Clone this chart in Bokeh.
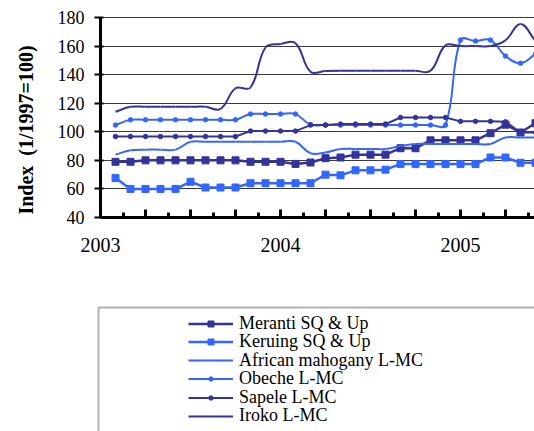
import math
from bokeh.plotting import figure
from bokeh.models import (FixedTicker, Legend, LegendItem, BoxAnnotation, Range1d,
                          Label)
from bokeh.embed import file_html
from bokeh.resources import INLINE

# ---------------- data (monthly index, month 0 = Jan 2003) ----------------
months = list(range(1, 30))

meranti = [79, 79, 80, 80, 80, 80, 80, 80, 80, 79, 79, 79, 77.5, 78.5, 81.5,
           82, 84, 84, 84, 88.5, 88.5, 94, 94, 94, 94, 99, 105, 99.5, 106]
keruing = [67.6, 60, 60, 60, 60, 65, 61, 61, 61, 64, 64, 64, 64, 64, 70,
           69.5, 73, 73, 73.5, 77.4, 77.4, 77.4, 77.4, 77.4, 77.4, 82, 82, 78.3, 78.3]
african = [84, 87, 87.5, 87.5, 87.5, 93, 93, 93, 93, 93, 93, 93, 93, 85, 85.5,
           88, 88, 88, 88, 90, 91.5, 91.5, 91.5, 91.5, 91.5, 91.5, 96, 96, 96]
obeche = [104.7, 108.4, 108.4, 108.4, 108.4, 108.4, 108.4, 108.4, 108.4, 112.4,
          112.4, 112.4, 112.4, 105, 104.7, 104.7, 104.7, 104.7, 104.7, 104.7,
          104.7, 104.7, 104.7, 164.2, 163.5, 164.2, 153, 148, 154.4]
sapele = [96.7, 96.7, 96.7, 96.7, 96.7, 96.7, 96.7, 96.7, 96.7, 100.5, 100.5,
          100.5, 100.5, 104.7, 104.7, 105.4, 105.4, 105.4, 105.4, 110, 110, 110,
          110, 107.3, 107.3, 107.3, 107, 99.5, 99.5]
iroko = [114, 117.5, 117.5, 117.5, 117.5, 117.5, 117.5, 116, 130.5, 131, 159,
         161.5, 162, 142, 142.5, 142.7, 142.7, 142.7, 142.7, 142.7, 142.7, 142.7,
         160.5, 160, 160, 160, 164, 175.5, 163.5]

series_names = ["Meranti SQ & Up", "Keruing SQ & Up", "African mahogany L-MC",
                "Obeche L-MC", "Sapele L-MC", "Iroko L-MC"]
y_title = "Index\u00a0 (1/1997=100)"

year_labels = ["2003", "2004", "2005"]
year_months = [0, 12, 24]
y_ticks = [40, 60, 80, 100, 120, 140, 160, 180]
x_major = [0, 3, 6, 9, 12, 15, 18, 21, 24, 27]
x_minor = [1.5, 4.5, 7.5, 10.5, 13.5, 16.5, 19.5, 22.5, 25.5, 28.5]

NAVY = "#333399"
BLUE = "#3366FF"
SERIF = "Liberation Serif"

# ---------------- layout ----------------
W, H = 534, 431
LEFT, TOP = 100, 17            # canvas position of (month 0, index 180)
PX_PER_MONTH = 15.0
PX_PER_UNIT = 200.0 / 140.0
X_START = -LEFT / PX_PER_MONTH
X_END = (W - LEFT) / PX_PER_MONTH
Y_END = 180 + TOP / PX_PER_UNIT
Y_START = 180 - (H - TOP) / PX_PER_UNIT

p = figure(width=W, height=H, output_backend="svg", toolbar_location=None,
           x_range=Range1d(X_START, X_END), y_range=Range1d(Y_START, Y_END),
           min_border_left=0, min_border_right=0, min_border_top=0,
           min_border_bottom=0)
p.outline_line_color = None
p.background_fill_color = "white"
p.border_fill_color = "white"

SX = PX_PER_MONTH
SY = PX_PER_UNIT


def smooth_segments(xs, ys, f=0.4):
    """Bezier control points (Excel-like smoothing, weighted in screen space)."""
    n = len(xs)
    P = [(x * SX, y * SY) for x, y in zip(xs, ys)]

    def d(a, b):
        return math.hypot(P[a][0] - P[b][0], P[a][1] - P[b][1])

    out = dict(x0=[], y0=[], x1=[], y1=[], cx0=[], cy0=[], cx1=[], cy1=[])
    for i in range(n - 1):
        i0 = max(i - 1, 0)
        i3 = min(i + 2, n - 1)
        d01, d12, d23 = d(i0, i), d(i, i + 1), d(i + 1, i3)
        a = f * d12 / (d01 + d12) if (d01 + d12) > 0 else 0
        b = f * d12 / (d12 + d23) if (d12 + d23) > 0 else 0
        c0x = P[i][0] + (P[i + 1][0] - P[i0][0]) * a
        c0y = P[i][1] + (P[i + 1][1] - P[i0][1]) * a
        c1x = P[i + 1][0] - (P[i3][0] - P[i][0]) * b
        c1y = P[i + 1][1] - (P[i3][1] - P[i][1]) * b
        out["x0"].append(xs[i]); out["y0"].append(ys[i])
        out["x1"].append(xs[i + 1]); out["y1"].append(ys[i + 1])
        out["cx0"].append(c0x / SX); out["cy0"].append(c0y / SY)
        out["cx1"].append(c1x / SX); out["cy1"].append(c1y / SY)
    return out


# ---------------- grid ----------------
yt = FixedTicker(ticks=y_ticks)
grid = p.ygrid[0]
grid.ticker = yt
grid.grid_line_color = "#3a3a3a"
grid.grid_line_width = 1
grid.bounds = (40, 180)
p.xgrid.visible = False
if "cross_bounds" in grid.properties():
    grid.cross_bounds = (0, X_END)
else:
    mask = BoxAnnotation(left=0, right=LEFT - 1, top=0, bottom=240,
                         left_units="canvas", right_units="canvas",
                         top_units="canvas", bottom_units="canvas",
                         fill_color="white", fill_alpha=1, line_alpha=0,
                         level="underlay")
    p.add_layout(mask)

# ---------------- axes ----------------
yax = p.yaxis[0]
yax.ticker = yt
yax.fixed_location = 0
yax.bounds = (40, 180)
yax.axis_line_width = 3
yax.axis_line_color = "black"
yax.major_tick_out = 6
yax.major_tick_in = 3
yax.major_tick_line_width = 2
yax.minor_tick_line_color = None
yax.major_label_standoff = 10
yax.major_label_text_font = SERIF
yax.major_label_text_font_size = "18px"
yax.major_label_text_color = "black"

xax = p.xaxis[0]
xax.ticker = FixedTicker(ticks=x_major, minor_ticks=x_minor)
xax.fixed_location = 40
xax.bounds = (0, X_END)
overrides = {t: "" for t in x_major}
for m, lab in zip(year_months, year_labels):
    overrides[m] = lab
xax.major_label_overrides = overrides
xax.axis_line_width = 3
xax.axis_line_color = "black"
xax.major_tick_in = 8
xax.major_tick_out = 0
xax.minor_tick_in = 5
xax.minor_tick_out = 0
xax.major_tick_line_width = 3
xax.minor_tick_line_width = 3
xax.major_tick_line_color = "black"
xax.minor_tick_line_color = "black"
xax.major_label_standoff = 20
xax.major_label_text_font = SERIF
xax.major_label_text_font_size = "20px"
xax.major_label_text_color = "black"

title = Label(x=25, y=129.5, x_units="canvas", y_units="canvas", text=y_title,
              angle=math.pi / 2, text_align="center", text_baseline="middle",
              text_font=SERIF, text_font_style="bold", text_font_size="20px",
              text_color="black")
p.add_layout(title)

# ---------------- series ----------------
items = []
glyph_h = []

r1 = p.line(months, meranti, line_color=NAVY, line_width=2.5)
r1m = p.scatter(months, meranti, marker="square", size=7, fill_color=NAVY, line_color=NAVY)
items.append(LegendItem(label=series_names[0], renderers=[r1, r1m]))
glyph_h.append(15)

r2 = p.line(months, keruing, line_color=BLUE, line_width=2.5)
r2m = p.scatter(months, keruing, marker="square", size=7, fill_color=BLUE, line_color=BLUE)
items.append(LegendItem(label=series_names[1], renderers=[r2, r2m]))
glyph_h.append(15)

s = smooth_segments(months, african)
r3 = p.bezier(line_color=BLUE, line_width=2, **s)
items.append(LegendItem(label=series_names[2], renderers=[r3]))
glyph_h.append(20)

s = smooth_segments(months, obeche)
r4 = p.bezier(line_color=BLUE, line_width=2, **s)
r4m = p.scatter(months, obeche, marker="circle", size=4.5, fill_color=BLUE, line_color=BLUE)
items.append(LegendItem(label=series_names[3], renderers=[r4, r4m]))
glyph_h.append(11)

r5 = p.line(months, sapele, line_color=NAVY, line_width=2)
r5m = p.scatter(months, sapele, marker="circle", size=4.5, fill_color=NAVY, line_color=NAVY)
items.append(LegendItem(label=series_names[4], renderers=[r5, r5m]))
glyph_h.append(11)

s = smooth_segments(months, iroko)
r6 = p.bezier(line_color=NAVY, line_width=2, **s)
items.append(LegendItem(label=series_names[5], renderers=[r6]))
glyph_h.append(20)

# ---------------- legend ----------------
box = BoxAnnotation(left=98, right=900, top=307, bottom=900,
                    left_units="canvas", right_units="canvas",
                    top_units="canvas", bottom_units="canvas",
                    fill_alpha=0, line_color="black", line_width=2)
p.add_layout(box)

ROW_H = 21          # height of one legend row box
FIRST_ROW = 323     # canvas y of the first row's centre
PITCH = 18.5
for i, (it, gh) in enumerate(zip(items, glyph_h)):
    centre = FIRST_ROW + PITCH * i
    lg = Legend(items=[it], location=(188, H - centre - ROW_H / 2), padding=0,
                spacing=0, glyph_width=45, glyph_height=gh, label_height=ROW_H,
                label_standoff=6, label_text_font=SERIF,
                label_text_font_size="18px", label_text_color="black",
                border_line_color=None, background_fill_alpha=0, margin=0)
    p.add_layout(lg)

open("out.html", "w").write(file_html(p, INLINE))
